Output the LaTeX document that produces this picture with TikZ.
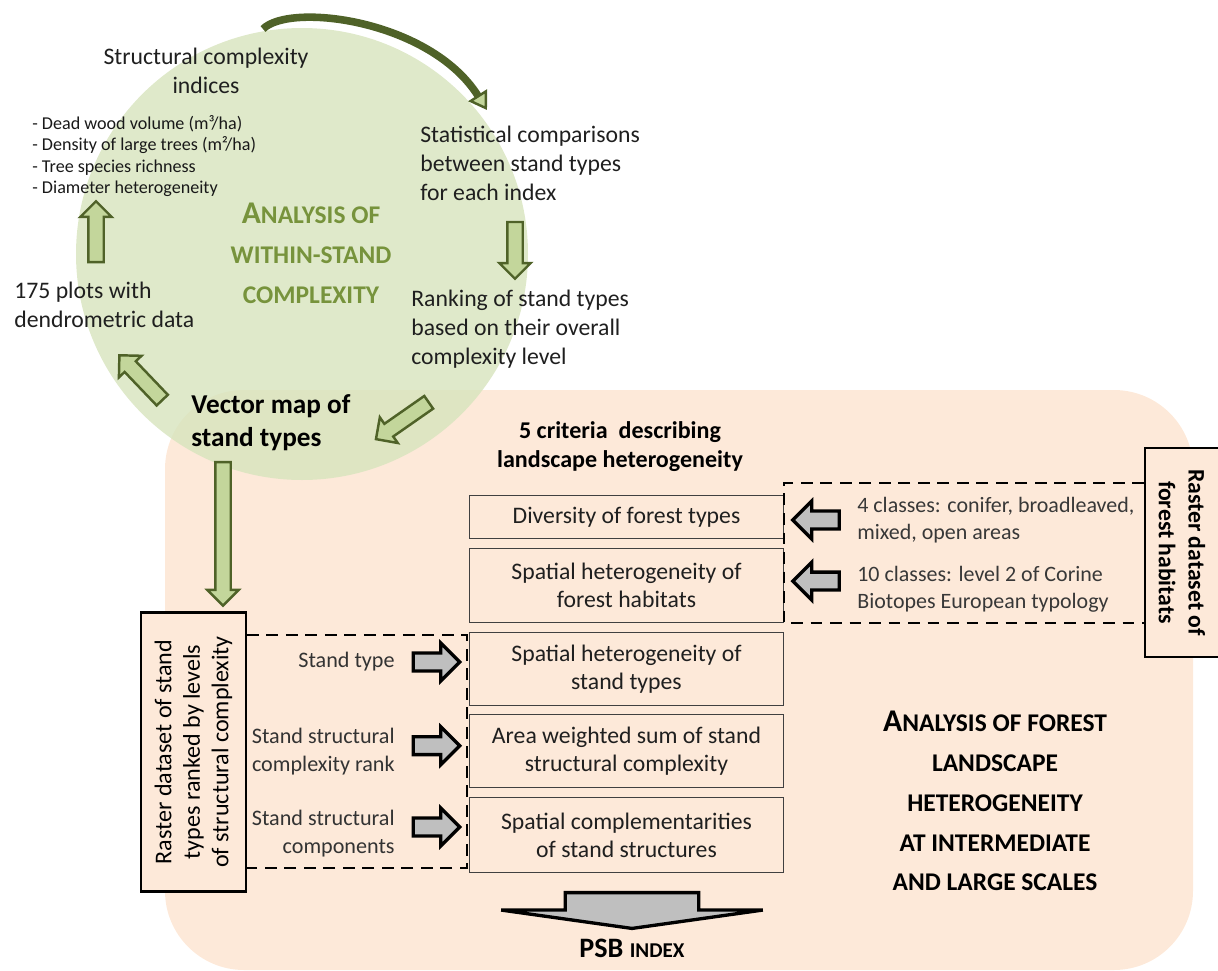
\documentclass[tikz,border=0pt]{standalone}
\usepackage{fontspec}
\setmainfont{Carlito}
\usetikzlibrary{shapes.arrows,arrows.meta}

\definecolor{peach}{HTML}{FDE9D9}
\definecolor{leaf}{HTML}{D7E4BD}
\definecolor{olivedark}{HTML}{4F6228}
\definecolor{olivelight}{HTML}{C3D69B}
\definecolor{titlegreen}{HTML}{77933C}
\definecolor{arrowgrey}{HTML}{BFBFBF}

% first letter of the small-caps titles
\newcommand{\initial}[1]{{\fontsize{18}{22.7}\selectfont #1}}

\begin{document}
\begin{tikzpicture}[x=0.02cm,y=-0.02cm,
	txt/.style={font=\fontsize{13.5}{16.5}\selectfont, inner sep=0pt, text=black!88},
	label/.style={font=\fontsize{12.6}{15.9}\selectfont, inner sep=0pt, text=black!80},
	classes/.style={font=\fontsize{12.5}{15.3}\selectfont, inner sep=0pt, text=black!78, anchor=west, align=left},
	measures/.style={font=\fontsize{10.3}{12.2}\selectfont, inner sep=0pt, align=left, text=black!90},
	heading/.style={font=\fontsize{14.5}{22.7}\selectfont\bfseries, inner sep=0pt, align=center},
	crit/.style={draw=black!75, line width=0.6pt, fill=peach, minimum width=178.6pt, inner sep=0pt, align=center,
		font=\fontsize{13.5}{16}\selectfont, text=black!88},
	raster/.style={draw=black, line width=1.2pt, fill=peach, align=center, inner sep=0pt},
	greenarrow/.style={single arrow, draw=olivedark, fill=olivelight, line width=1.4pt, inner xsep=0pt, inner ysep=3.7pt,
		single arrow head extend=4.5pt, sloped, allow upside down},
	greyarrow/.style={single arrow, draw=black, fill=arrowgrey, line width=1.9pt, inner xsep=0pt, inner ysep=4.15pt,
		single arrow head extend=5.65pt, minimum height=26.4pt, sloped, allow upside down},
	bigarrow/.style={single arrow, draw=black, fill=arrowgrey, line width=1.9pt, inner xsep=0pt, inner ysep=37pt,
		single arrow head extend=36.5pt, single arrow tip angle=164, minimum height=20.4pt, sloped, allow upside down},
	bracket/.style={line width=1.1pt, dash pattern=on 6.8pt off 4.3pt}]
	\useasboundingbox (0,0) rectangle (1218,971);

	% Backgrounds
	\fill[peach, rounded corners=45pt] (165,390) rectangle (1193,970);
	\fill[leaf, opacity=0.8] (302,254) circle [radius=226];

	% Within-stand cycle
	\node[txt, align=center] (indices) at (206,71) {Structural complexity\\indices};
	\node[measures, anchor=west] (list) at (32,156) {- Dead wood volume (m³/ha)\\- Density of large trees (m²/ha)\\- Tree species richness\\- Diameter heterogeneity};
	\node[heading, text=titlegreen] (within) at (311,253) {\initial{A}NALYSIS OF\\WITHIN-STAND\\COMPLEXITY};
	\node[txt, anchor=west, align=left] (stats) at (420,163) {Statistical comparisons\\between stand types\\for each index};
	\node[txt, anchor=west, align=left] (ranking) at (411,329) {Ranking of stand types\\based on their overall\\complexity level};
	\node[txt, anchor=west, align=left] (plots) at (14,305) {175 plots with\\dendrometric data};
	\node[txt, font=\fontsize{15.5}{18.7}\selectfont\bfseries, text=black, anchor=west, align=left] (vector) at (191,423) {Vector map of\\stand types};

	\coordinate (curvetail) at (263,29);
	\coordinate (curvehead) at (487,110);
	\draw[olivedark, line width=4.3pt, -{Triangle[length=10pt, width=12.5pt, fill=olivelight, line width=1.4pt]}]
		(curvetail) .. controls (290,2) and (430,20) .. (curvehead);

	\coordinate (plotsup) at (96,266);
	\coordinate (listdown) at (96,205);
	\coordinate (statsdown) at (515,218);
	\coordinate (rankup) at (515,275);
	\coordinate (vectorleft) at (165,403);
	\coordinate (plotsdown) at (122,358);
	\coordinate (rankdown) at (432,400);
	\coordinate (vectorright) at (379,437);
	\coordinate (vectordown) at (223,458);
	\coordinate (rastertop) at (223,602);
	\path (plotsup) -- (listdown) node[midway, greenarrow, minimum height=34.6pt] (arrowlist) {};
	\path (statsdown) -- (rankup) node[midway, greenarrow, minimum height=32.3pt] (arrowrank) {};
	\path (vectorleft) -- (plotsdown) node[midway, greenarrow, minimum height=35.3pt] (arrowplots) {};
	\path (rankdown) -- (vectorright) node[midway, greenarrow, minimum height=36.6pt] (arrowvector) {};
	\path (vectordown) -- (rastertop) node[midway, greenarrow, minimum height=81.6pt] (arrowraster) {};

	% Landscape criteria
	\node[txt, font=\fontsize{13.7}{16.5}\selectfont\bfseries, text=black, align=center] (criteria) at (620,447) {5 criteria~ describing\\landscape heterogeneity};
	\node[crit, minimum height=24.9pt] (c1) at (626.5,517) {Diversity of forest types};
	\node[crit, minimum height=42.5pt] (c2) at (626.5,585.5) {Spatial heterogeneity of\\forest habitats};
	\node[crit, minimum height=42pt] (c3) at (626.5,669) {Spatial heterogeneity of\\stand types};
	\node[crit, minimum height=42pt] (c4) at (626.5,751) {Area weighted sum of stand\\structural complexity};
	\node[crit, minimum height=43pt] (c5) at (626.5,835) {Spatial complementarities\\of stand structures};

	% Stand raster
	\node[raster, rotate=90, minimum width=158.8pt, minimum height=59.5pt, font=\fontsize{13.7}{16.2}\selectfont] (standraster) at (193.5,752)
		{Raster dataset of stand\\types ranked by levels\\of structural complexity};
	\node[label, anchor=east] (lbltype) at (395,662) {Stand type};
	\node[label, anchor=east, align=right] (lblrank) at (395,752) {Stand structural\\complexity rank};
	\node[label, anchor=east, align=right] (lblcomp) at (395,834) {Stand structural\\components};
	\path (lbltype.east) -- (c3.west |- lbltype.east) node[midway, greyarrow] (typearrow) {};
	\path ([yshift=3.6pt]lblrank.east) -- ([yshift=3.6pt]lblrank.east -| c4.west) node[midway, greyarrow] (rankarrow) {};
	\path ([yshift=4pt]lblcomp.east) -- ([yshift=4pt]lblcomp.east -| c5.west) node[midway, greyarrow] (comparrow) {};
	\coordinate (standtop) at (467,635);
	\coordinate (standbot) at (467,868);
	\draw[bracket] (standraster.south |- standtop) -- (standtop) -- (standbot) -- (standraster.south |- standbot);

	% Habitat raster
	\node[raster, rotate=-90, minimum width=118.5pt, minimum height=42pt, font=\fontsize{13.5}{17}\selectfont\bfseries] (habraster) at (1182,552.5)
		{Raster dataset of\\forest habitats};
	\node[classes] (forclasses) at (857,520) {4 classes: conifer, broadleaved,\\mixed, open areas};
	\node[classes] (biotopes) at (857,589) {10 classes: level 2 of Corine\\Biotopes European typology};
	\path (forclasses.west) -- (forclasses.west -| c1.east) node[midway, greyarrow] (forarrow) {};
	\path ([yshift=4.5pt]biotopes.west) -- ([yshift=4.5pt]biotopes.west -| c2.east) node[midway, greyarrow] (bioarrow) {};
	\coordinate (habtop) at (784,483);
	\coordinate (habbot) at (784,623);
	\draw[bracket] (habraster.south |- habtop) -- (habtop) -- (habbot) -- (habraster.south |- habbot);

	% Result
	\node[inner sep=0pt, font=\fontsize{16}{18}\selectfont\bfseries] (psb) at (632,948) {PSB {\fontsize{12}{14}\selectfont INDEX}};
	\path (psb.north |- c5.south) -- (psb.north) node[midway, bigarrow] (psbarrow) {};
	\node[heading] (landscape) at (995,801) {\initial{A}NALYSIS OF FOREST\\LANDSCAPE\\HETEROGENEITY\\AT INTERMEDIATE\\AND LARGE SCALES};
\end{tikzpicture}
\end{document}
